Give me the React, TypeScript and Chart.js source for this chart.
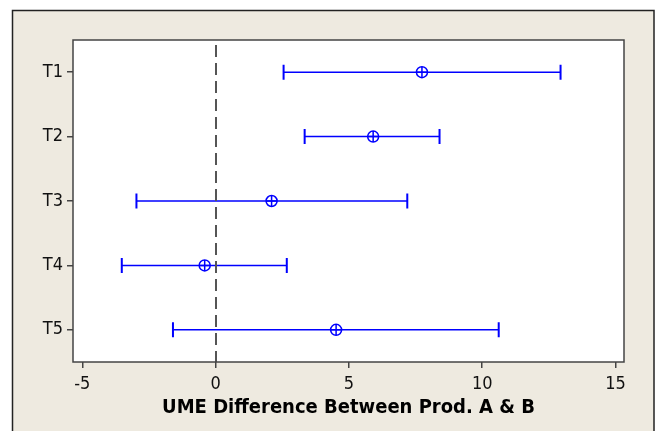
import React, { useEffect, useRef } from "react";
import { Chart, registerables } from "chart.js";

Chart.register(...registerables);

const categories = ["T1", "T2", "T3", "T4", "T5"];
const means = [7.74, 5.91, 2.1, -0.41, 4.52];
const lowers = [2.55, 3.34, -2.97, -3.52, -1.6];
const uppers = [12.94, 8.4, 7.19, 2.67, 10.62];
const xTickValues = [-5, 0, 5, 10, 15];
const xMin = -5.35;
const xMax = 15.32;
const refValue = 0;
const xTitle = "UME Difference Between Prod. A & B";

const BLUE = "#0000FF";
const FONT = "'DejaVu Sans Condensed', 'DejaVu Sans', Verdana, sans-serif";

const decorPlugin = {
  id: "decor",
  beforeDraw(chart: any) {
    const { ctx, width, height, chartArea: a } = chart;
    ctx.save();
    ctx.fillStyle = "#ffffff";
    ctx.fillRect(0, 0, width, height);
    ctx.fillStyle = "#EEEAE0";
    ctx.fillRect(12, 10, width - 13, height);
    ctx.strokeStyle = "#222222";
    ctx.lineWidth = 1.5;
    ctx.strokeRect(12.5, 10.5, 641.5, height + 20);
    ctx.fillStyle = "#ffffff";
    ctx.fillRect(a.left, a.top, a.right - a.left, a.bottom - a.top);
    ctx.restore();
  },
  beforeDatasetsDraw(chart: any) {
    const { ctx } = chart;
    const xs = chart.scales.x;
    const ys = chart.scales.y;
    ctx.save();
    ctx.strokeStyle = BLUE;
    categories.forEach((c, i) => {
      const y = ys.getPixelForValue(i);
      const x1 = xs.getPixelForValue(lowers[i]);
      const x2 = xs.getPixelForValue(uppers[i]);
      ctx.lineWidth = 1.5;
      ctx.beginPath();
      ctx.moveTo(x1, y);
      ctx.lineTo(x2, y);
      ctx.stroke();
      ctx.lineWidth = 2;
      ctx.beginPath();
      ctx.moveTo(x1, y - 7.5);
      ctx.lineTo(x1, y + 7.5);
      ctx.moveTo(x2, y - 7.5);
      ctx.lineTo(x2, y + 7.5);
      ctx.stroke();
    });
    ctx.restore();
  },
  afterDatasetsDraw(chart: any) {
    const { ctx, chartArea: a } = chart;
    const xs = chart.scales.x;
    const x = Math.round(xs.getPixelForValue(refValue));
    ctx.save();
    ctx.strokeStyle = "#555555";
    ctx.lineWidth = 2;
    ctx.setLineDash([12, 6]);
    ctx.lineDashOffset = -5;
    ctx.beginPath();
    ctx.moveTo(x, a.top);
    ctx.lineTo(x, a.bottom);
    ctx.stroke();
    ctx.restore();
  },
  afterDraw(chart: any) {
    const { ctx, chartArea: a } = chart;
    ctx.save();
    ctx.strokeStyle = "#444444";
    ctx.lineWidth = 1.5;
    ctx.strokeRect(a.left, a.top, a.right - a.left, a.bottom - a.top);
    ctx.restore();
  },
};

export default function App() {
  const ref = useRef<HTMLCanvasElement | null>(null);
  useEffect(() => {
    document.body.style.margin = "0";
    const canvas = ref.current;
    if (!canvas) return;
    const pts = means.map((m, i) => ({ x: m, y: categories[i] }));
    const chart = new Chart(canvas, {
      type: "scatter",
      data: {
        labels: categories,
        datasets: [
          {
            data: pts,
            pointStyle: "circle",
            radius: 5.5,
            borderColor: BLUE,
            backgroundColor: "rgba(255,255,255,0)",
            borderWidth: 1.5,
          },
          {
            data: pts,
            pointStyle: "cross",
            radius: 5.5,
            borderColor: BLUE,
            borderWidth: 1.5,
          },
        ],
      },
      options: {
        animation: false,
        responsive: false,
        devicePixelRatio: 1,
        layout: { padding: { left: 0, top: 40, right: 31, bottom: 0 } },
        plugins: { legend: { display: false }, tooltip: { enabled: false } },
        scales: {
          x: {
            type: "linear",
            min: xMin,
            max: xMax,
            afterBuildTicks: (s: any) => {
              s.ticks = xTickValues.map((v) => ({ value: v }));
            },
            afterFit: (s: any) => {
              s.height = 69;
            },
            border: { display: false },
            grid: {
              drawOnChartArea: false,
              drawTicks: true,
              tickLength: 6,
              color: "#444444",
              lineWidth: 1.5,
            },
            ticks: {
              color: "#111111",
              font: { family: FONT, size: 18 },
              padding: 6,
              autoSkip: false,
              maxRotation: 0,
            },
            title: {
              display: true,
              text: xTitle,
              color: "#000000",
              font: { family: FONT, size: 20, weight: "bold" },
              padding: { top: 0, bottom: 11 },
            },
          },
          y: {
            type: "category",
            labels: categories,
            offset: true,
            afterFit: (s: any) => {
              s.width = 73;
            },
            border: { display: false },
            grid: {
              offset: false,
              drawOnChartArea: false,
              drawTicks: true,
              tickLength: 6,
              color: "#444444",
              lineWidth: 1.5,
            },
            ticks: {
              color: "#111111",
              font: { family: FONT, size: 18 },
              padding: 4,
            },
          },
        },
      },
      plugins: [decorPlugin],
    } as any);
    return () => chart.destroy();
  }, []);
  return <canvas ref={ref} width={655} height={431} style={{ display: "block" }} />;
}
